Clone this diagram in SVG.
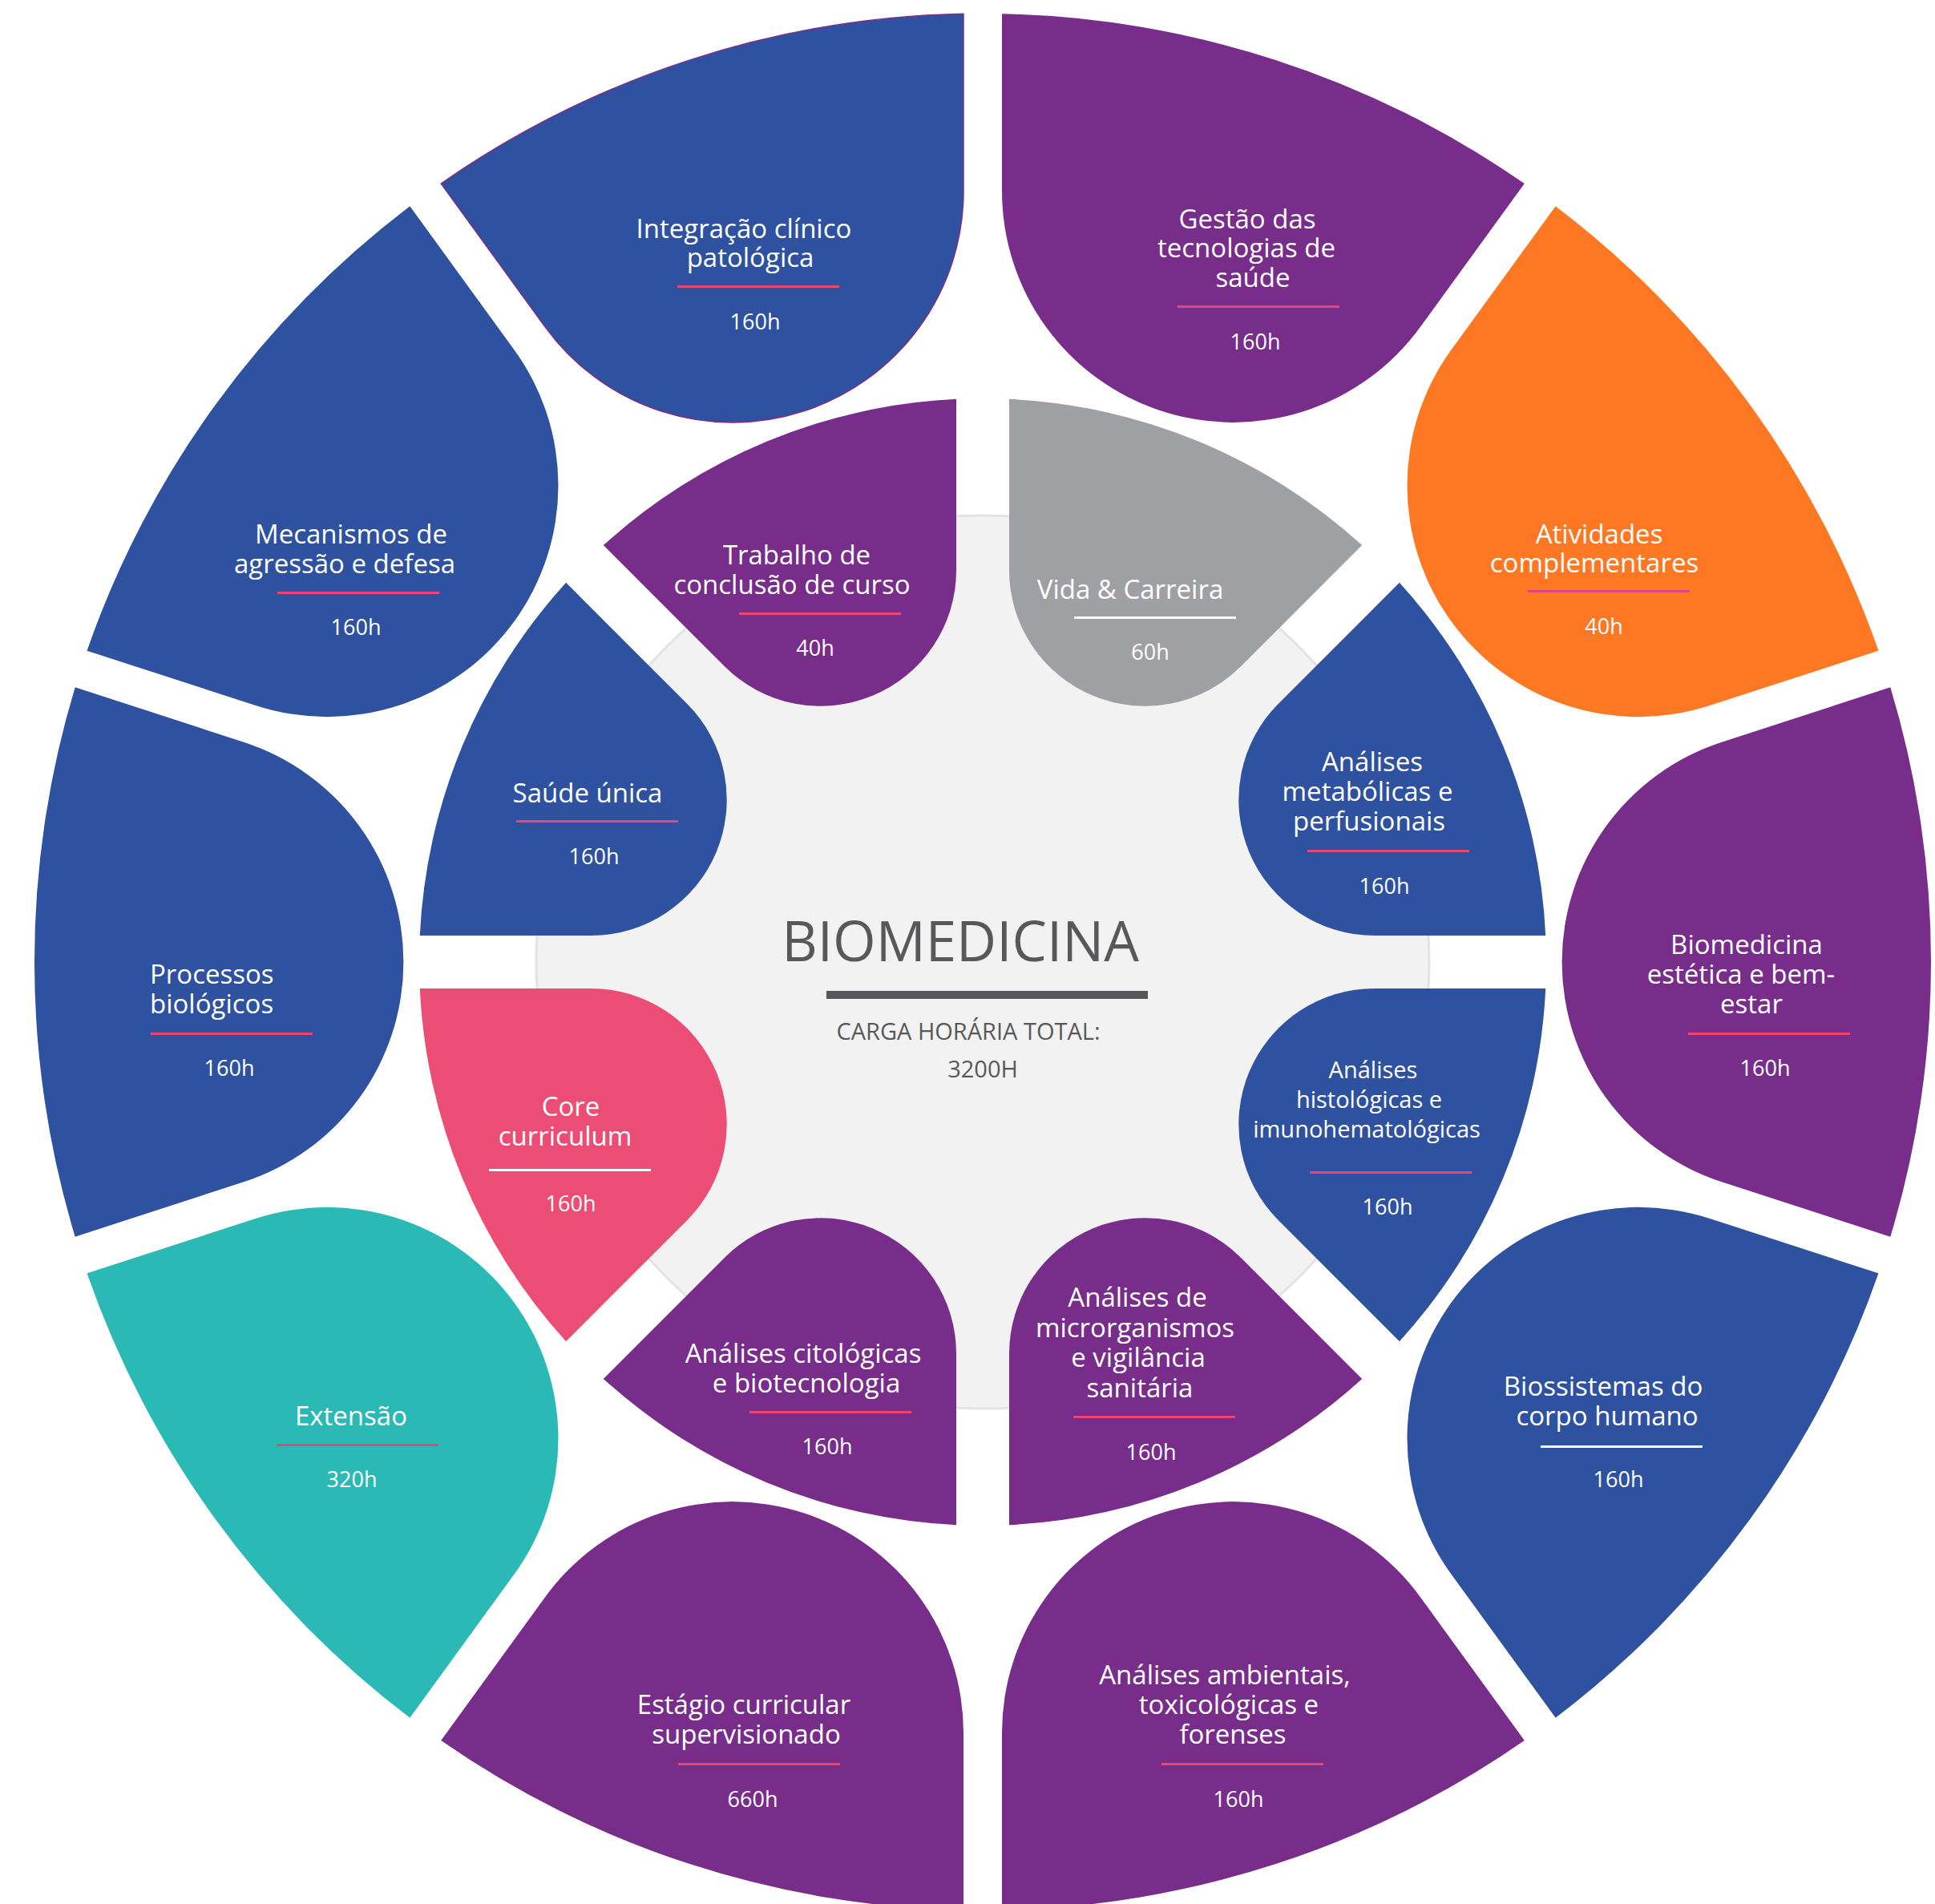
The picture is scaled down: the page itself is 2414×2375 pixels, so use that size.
<svg xmlns="http://www.w3.org/2000/svg" width="2414" height="2375" viewBox="0 0 2414 2375">
<defs>
<path id="outer" d="M 921.88 274.30 L 1132.30 342.67 A 1183 1183 0 0 0 1132.30 -342.67 L 921.88 -274.30 A 288.42 288.42 0 0 0 921.88 274.30 Z"/>
<path id="inner" d="M 464.16 156.54 L 661.40 238.24 A 703 703 0 0 0 661.40 -238.24 L 464.16 -156.54 A 169.44 169.44 0 0 0 464.16 156.54 Z"/>
</defs>
<style>
.lbl{font-family:"Open Sans","Liberation Sans",sans-serif;font-size:33px;fill:#ffffff;text-anchor:middle}
.sm{font-size:29px}
.st{text-anchor:start}
.hrs{font-family:"Open Sans","Liberation Sans",sans-serif;font-size:27px;fill:#ffffff;text-anchor:middle}
.ul{fill:#EC4573}
.ulm{fill:#D9468A}
.ulw{fill:#ffffff}
.blue{fill:#2E529F}
.purple{fill:#782D8A}
.orange{fill:#FE7722}
.gray{fill:#9FA0A4}
.pink{fill:#EC4D74}
.teal{fill:#2AB9B5}
.ttl{font-family:"Open Sans","Liberation Sans",sans-serif;fill:#58585A;text-anchor:middle}
</style>
<rect x="0" y="0" width="2414" height="2375" fill="#ffffff"/>

<g id="center">
<circle cx="1226" cy="1200" r="557" fill="#F2F2F2" stroke="#E3E3E3" stroke-width="3"/>
<text class="ttl" x="1198" y="1199" font-size="69">BIOMEDICINA</text>
<rect x="1031" y="1236" width="401" height="10" fill="#58585A"/>
<text class="ttl" x="1208" y="1297" font-size="29">CARGA HORÁRIA TOTAL:</text>
<text class="ttl" x="1226" y="1344" font-size="29">3200H</text>
</g>

<g id="integracao">
<use href="#outer" class="blue" stroke="#7B2D8B" stroke-width="1.5" transform="translate(1226 1200) rotate(-108)"/>
<text class="lbl"><tspan x="928" y="297">Integração clínico</tspan><tspan x="936" y="333">patológica</tspan></text>
<rect class="ul" x="845" y="356" width="202" height="3"/>
<text class="hrs" x="942" y="411">160h</text>
</g>

<g id="gestao">
<use href="#outer" class="purple" transform="translate(1226 1200) rotate(-72)"/>
<text class="lbl"><tspan x="1556" y="285">Gestão das</tspan><tspan x="1555" y="321">tecnologias de</tspan><tspan x="1563" y="358">saúde</tspan></text>
<rect class="ul" x="1469" y="381" width="202" height="3"/>
<text class="hrs" x="1566" y="436">160h</text>
</g>

<g id="atividades">
<use href="#outer" class="orange" transform="translate(1226 1200) rotate(-36)"/>
<text class="lbl"><tspan x="1995" y="678">Atividades</tspan><tspan x="1989" y="714">complementares</tspan></text>
<rect class="ulm" x="1906" y="736" width="202" height="3"/>
<text class="hrs" x="2001" y="791">40h</text>
</g>

<g id="biomedicina-estetica">
<use href="#outer" class="purple" transform="translate(1226 1200) rotate(0)"/>
<text class="lbl"><tspan x="2179" y="1190">Biomedicina</tspan><tspan x="2172" y="1227">estética e bem-</tspan><tspan x="2185" y="1264">estar</tspan></text>
<rect class="ul" x="2106" y="1288" width="202" height="3"/>
<text class="hrs" x="2202" y="1342">160h</text>
</g>

<g id="biossistemas">
<use href="#outer" class="blue" transform="translate(1226 1200) rotate(36)"/>
<text class="lbl"><tspan x="2000" y="1741">Biossistemas do</tspan><tspan x="2005" y="1778">corpo humano</tspan></text>
<rect class="ulw" x="1922" y="1803" width="202" height="3"/>
<text class="hrs" x="2019" y="1855">160h</text>
</g>

<g id="ambientais">
<use href="#outer" class="purple" transform="translate(1226 1200) rotate(72)"/>
<text class="lbl"><tspan x="1528" y="2101">Análises ambientais,</tspan><tspan x="1533" y="2138">toxicológicas e</tspan><tspan x="1538" y="2175">forenses</tspan></text>
<rect class="ul" x="1449" y="2199" width="202" height="3"/>
<text class="hrs" x="1545" y="2254">160h</text>
</g>

<g id="estagio">
<use href="#outer" class="purple" transform="translate(1226 1200) rotate(108)"/>
<text class="lbl"><tspan x="928" y="2138">Estágio curricular</tspan><tspan x="931" y="2175">supervisionado</tspan></text>
<rect class="ul" x="846" y="2199" width="202" height="3"/>
<text class="hrs" x="939" y="2254">660h</text>
</g>

<g id="extensao">
<use href="#outer" class="teal" transform="translate(1226 1200) rotate(144)"/>
<text class="lbl" x="438" y="1778">Extensão</text>
<rect class="ul" x="345" y="1801" width="202" height="3"/>
<text class="hrs" x="439" y="1855">320h</text>
</g>

<g id="processos">
<use href="#outer" class="blue" transform="translate(1226 1200) rotate(180)"/>
<text class="lbl st"><tspan x="187" y="1227">Processos</tspan><tspan x="187" y="1264">biológicos</tspan></text>
<rect class="ul" x="188" y="1288" width="202" height="3"/>
<text class="hrs" x="286" y="1342">160h</text>
</g>

<g id="mecanismos">
<use href="#outer" class="blue" transform="translate(1226 1200) rotate(-144)"/>
<text class="lbl"><tspan x="438" y="678">Mecanismos de</tspan><tspan x="430" y="715">agressão e defesa</tspan></text>
<rect class="ul" x="346" y="738" width="202" height="3"/>
<text class="hrs" x="444" y="792">160h</text>
</g>

<g id="trabalho">
<use href="#inner" class="purple" transform="translate(1226 1200) rotate(-112.5)"/>
<text class="lbl"><tspan x="994" y="704">Trabalho de</tspan><tspan x="988" y="741">conclusão de curso</tspan></text>
<rect class="ul" x="922" y="764" width="202" height="3"/>
<text class="hrs" x="1017" y="818">40h</text>
</g>

<g id="vida-carreira">
<use href="#inner" class="gray" transform="translate(1226 1200) rotate(-67.5)"/>
<text class="lbl" x="1410" y="747">Vida &amp; Carreira</text>
<rect class="ulw" x="1340" y="769" width="202" height="3"/>
<text class="hrs" x="1435" y="823">60h</text>
</g>

<g id="metabolicas">
<use href="#inner" class="blue" transform="translate(1226 1200) rotate(-22.5)"/>
<text class="lbl"><tspan x="1712" y="962">Análises</tspan><tspan x="1706" y="999">metabólicas e</tspan><tspan x="1708" y="1036">perfusionais</tspan></text>
<rect class="ul" x="1631" y="1060" width="202" height="3"/>
<text class="hrs" x="1727" y="1115">160h</text>
</g>

<g id="histologicas">
<use href="#inner" class="blue" transform="translate(1226 1200) rotate(22.5)"/>
<text class="lbl sm"><tspan x="1713" y="1345">Análises</tspan><tspan x="1708" y="1382">histológicas e</tspan><tspan x="1705" y="1419">imunohematológicas</tspan></text>
<rect class="ul" x="1634" y="1461" width="202" height="3"/>
<text class="hrs" x="1731" y="1515">160h</text>
</g>

<g id="microrganismos">
<use href="#inner" class="purple" transform="translate(1226 1200) rotate(67.5)"/>
<text class="lbl"><tspan x="1419" y="1630">Análises de</tspan><tspan x="1416" y="1668">microrganismos</tspan><tspan x="1420" y="1705">e vigilância</tspan><tspan x="1422" y="1743">sanitária</tspan></text>
<rect class="ul" x="1339" y="1766" width="202" height="3"/>
<text class="hrs" x="1436" y="1821">160h</text>
</g>

<g id="citologicas">
<use href="#inner" class="purple" transform="translate(1226 1200) rotate(112.5)"/>
<text class="lbl"><tspan x="1002" y="1700">Análises citológicas</tspan><tspan x="1006" y="1737">e biotecnologia</tspan></text>
<rect class="ul" x="935" y="1760" width="202" height="3"/>
<text class="hrs" x="1032" y="1814">160h</text>
</g>

<g id="core">
<use href="#inner" class="pink" transform="translate(1226 1200) rotate(157.5)"/>
<text class="lbl"><tspan x="712" y="1392">Core</tspan><tspan x="705" y="1429">curriculum</tspan></text>
<rect class="ulw" x="610" y="1458" width="202" height="3"/>
<text class="hrs" x="712" y="1511">160h</text>
</g>

<g id="saude-unica">
<use href="#inner" class="blue" transform="translate(1226 1200) rotate(-157.5)"/>
<text class="lbl" x="733" y="1001">Saúde única</text>
<rect class="ul" x="644" y="1023" width="202" height="3"/>
<text class="hrs" x="741" y="1078">160h</text>
</g>
</svg>
